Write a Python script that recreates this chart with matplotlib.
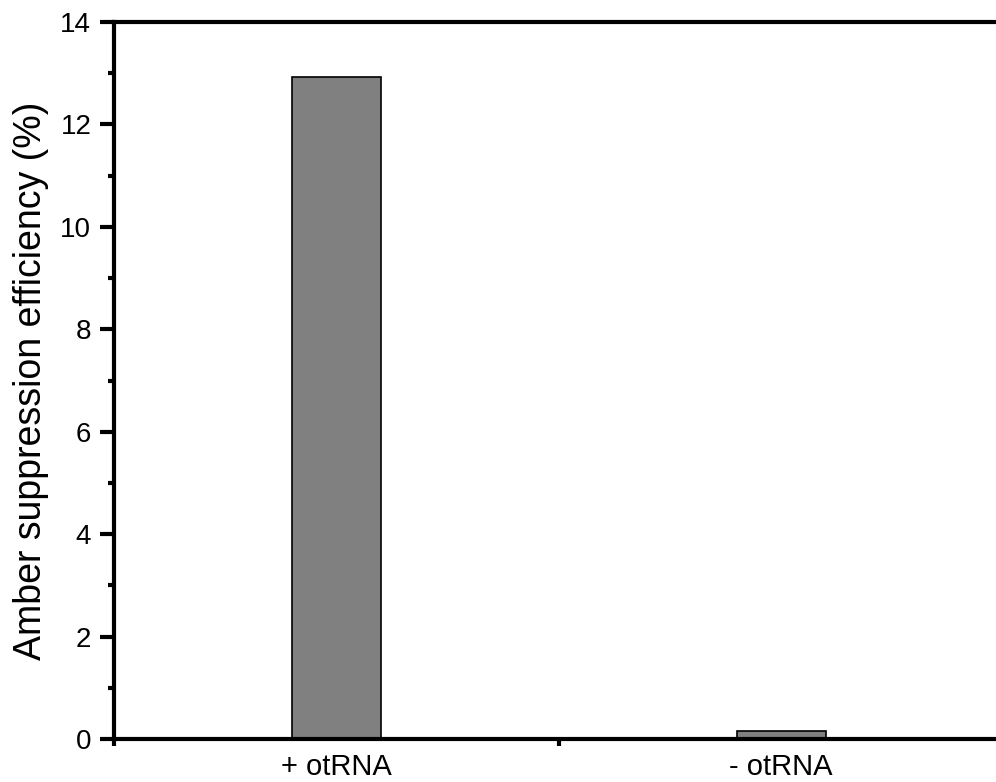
import matplotlib
matplotlib.use("Agg")
import matplotlib.pyplot as plt
from matplotlib.ticker import MultipleLocator, FixedLocator

categories = ["+ otRNA", "- otRNA"]
efficiency = [12.93, 0.16]

plt.rcParams["font.family"] = ["Liberation Sans", "DejaVu Sans"]

fig = plt.figure(figsize=(9.96, 7.82), dpi=100)
ax = fig.add_axes([113.5 / 996, 43 / 782, 890 / 996, 717 / 782])

x = [1, 2]
ax.bar(x, efficiency, width=0.2, color="#808080", edgecolor="black", linewidth=1.2)

ax.set_xlim(0.5, 2.5)
ax.set_ylim(0, 14)

ax.set_xticks(x)
ax.set_xticklabels(categories)
ax.xaxis.set_minor_locator(FixedLocator([0.5, 1.5, 2.5]))
ax.tick_params(axis="x", which="major", length=0, labelsize=21, pad=10)
ax.tick_params(axis="x", which="minor", length=5, width=3, direction="out")

ax.yaxis.set_major_locator(MultipleLocator(2))
ax.yaxis.set_minor_locator(MultipleLocator(1))
ax.tick_params(axis="y", which="major", length=10, width=3, labelsize=20, pad=6)
ax.tick_params(axis="y", which="minor", length=4.5, width=3)

for side in ["left", "bottom", "top", "right"]:
    ax.spines[side].set_linewidth(3)

ax.set_ylabel("Amber suppression efficiency (%)", fontsize=27, labelpad=8)

fig.savefig("out.png", dpi=100)
